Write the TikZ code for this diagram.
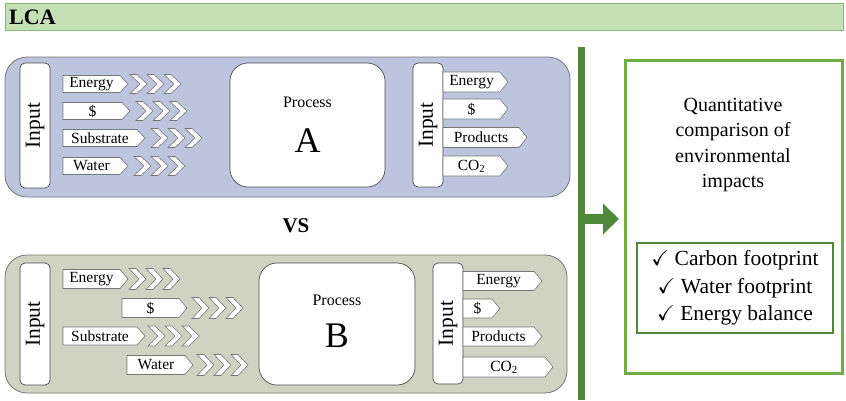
\documentclass[tikz,border=0pt]{standalone}
\usepackage{fontspec}
\setmainfont{Liberation Serif}
\usepackage{amssymb}
\usetikzlibrary{arrows.meta}

\definecolor{titlefill}{HTML}{C5E0B4}
\definecolor{titleline}{HTML}{8AB573}
\definecolor{panelA}{HTML}{BCC5DD}
\definecolor{panelB}{HTML}{D0D3C2}
\definecolor{panelline}{HTML}{777777}
\definecolor{darkgreen}{HTML}{4E8A3A}
\definecolor{lightgreen}{HTML}{70AD47}

% labelled flow tag with a pointed right end
\newcommand\flowtag[6]{% name, left x, tip x, centre y, height, text
  \path[tagbox] (#2,{#4-#5/2}) -- ({#3-8},{#4-#5/2}) -- (#3,#4) -- ({#3-8},{#4+#5/2}) -- (#2,{#4+#5/2}) -- cycle;
  \node[tagtext] (#1) at ({(#2+#3-8)/2},#4) {#6};}

% three chevrons following a tag
\newcommand\chevrons[3]{% start x, centre y, height
  \foreach \i in {0,1,2}{
    \path[chev] ({#1+17*\i},{#2-#3/2-1}) -- ({#1+17*\i+7},{#2-#3/2-1}) -- ({#1+17*\i+17},#2)
      -- ({#1+17*\i+7},{#2+#3/2+1}) -- ({#1+17*\i},{#2+#3/2+1}) -- ({#1+17*\i+10},#2) -- cycle;}}

\begin{document}
\begin{tikzpicture}[x=1pt,y=-1pt,
  tagbox/.style={draw=panelline, fill=white, line width=0.6pt},
  chev/.style={draw=panelline, fill=white, line width=0.6pt},
  tagtext/.style={font=\fontsize{15.5}{17}\selectfont, inner sep=0pt},
  inbox/.style={draw=black!70, fill=white, rounded corners=5pt, line width=0.7pt},
  inputtext/.style={rotate=90, font=\fontsize{21.5}{22}\selectfont, inner sep=0pt},
  procbox/.style={draw=black!70, fill=white, rounded corners=18pt, line width=0.7pt},
  panel/.style={draw=panelline, rounded corners=22pt, line width=0.8pt},
  proctext/.style={font=\fontsize{16}{18}\selectfont, inner sep=0pt},
  procletter/.style={font=\fontsize{36}{38}\selectfont, inner sep=0pt}
]
\useasboundingbox (0,0) rectangle (846,400);

% title bar
\node[draw=titleline, fill=titlefill, line width=0.8pt, minimum width=838, minimum height=27, inner sep=0pt] (titlebar) at (424,16.5) {};
\node[anchor=west, font=\fontsize{22}{24}\selectfont\bfseries, inner sep=0pt] (title) at (9,17) {LCA};

% ---------- process A ----------
\node[panel, fill=panelA, minimum width=565, minimum height=140] (panelA) at (287.5,127) {};
\node[inbox, minimum width=30, minimum height=125] (inAL) at (35,125.5) {};
\node[inputtext] at (inAL) {Input};

\flowtag{aE}{63}{128}{84}{17}{Energy}      \chevrons{130}{84}{17}
\flowtag{aD}{63}{130}{111}{17}{\$}         \chevrons{136}{111}{17}
\flowtag{aS}{63}{145}{138}{17}{Substrate}  \chevrons{151}{138}{17}
\flowtag{aW}{63}{128}{166}{17}{Water}      \chevrons{134}{166}{17}

\node[procbox, minimum width=155, minimum height=124] (procA) at (307.5,125) {};
\node[proctext] at (307.5,102) {Process};
\node[procletter] at (307.5,141) {A};

\node[inbox, minimum width=30, minimum height=124] (inAR) at (428,125) {};
\node[inputtext] at (inAR) {Input};
\flowtag{aoE}{443}{508}{82}{20}{Energy}
\flowtag{aoD}{443}{508}{109}{20}{\$}
\flowtag{aoP}{443}{527}{137.5}{20}{Products}
\flowtag{aoC}{443}{508}{166}{20}{CO\textsubscript{2}}

\node[font=\fontsize{21}{23}\selectfont\bfseries, inner sep=0pt] (vs) at (296,226) {VS};

% ---------- process B ----------
\node[panel, fill=panelB, minimum width=562, minimum height=138] (panelB) at (286,324) {};
\node[inbox, minimum width=30, minimum height=122] (inBL) at (35,324) {};
\node[inputtext] at (inBL) {Input};

\flowtag{bE}{63}{128}{279}{19}{Energy}      \chevrons{129}{279}{19}
\flowtag{bD}{122}{187}{308}{19}{\$}         \chevrons{192}{308}{19}
\flowtag{bS}{63}{145}{336}{18}{Substrate}   \chevrons{148}{336}{18}
\flowtag{bW}{127}{193}{365}{19}{Water}      \chevrons{197}{365}{19}

\node[procbox, minimum width=156, minimum height=122] (procB) at (337,324) {};
\node[proctext] at (337,300) {Process};
\node[procletter] at (337,336) {B};

\node[inbox, minimum width=30, minimum height=121] (inBR) at (448,323.5) {};
\node[inputtext] at (inBR) {Input};
\flowtag{boE}{463}{542}{281}{19}{Energy}
\flowtag{boD}{463}{500}{308.5}{19}{\$}
\flowtag{boP}{463}{542}{336.5}{19}{Products}
\flowtag{boC}{463}{553}{367}{20}{CO\textsubscript{2}}

% ---------- comparison ----------
\coordinate (bartop) at (581.5,47);
\coordinate (barbot) at (581.5,400);
\draw[darkgreen, line width=7pt] (bartop) -- (barbot);

\node[draw=lightgreen, line width=3pt, minimum width=217, minimum height=313, inner sep=0pt] (result) at (733.5,216.5) {};
\coordinate (barjoin) at (585,219);
\coordinate (arrowtip) at (619,219);
\draw[darkgreen, line width=10pt, -{Triangle[length=16pt,width=30pt]}] (barjoin) -- (arrowtip);

\node[align=center, font=\fontsize{20}{25.5}\selectfont, inner sep=0pt] (quant) at (733,145)
  {Quantitative\\comparison of\\environmental\\impacts};

\node[draw=darkgreen, line width=2pt, fill=white, minimum width=196, minimum height=90, inner sep=0pt] (impacts) at (735,288) {};
\node[align=center, font=\fontsize{21.5}{27.5}\selectfont, inner sep=0pt] at (impacts)
  {$\checkmark$ Carbon footprint\\$\checkmark$ Water footprint\\$\checkmark$ Energy balance};
\end{tikzpicture}
\end{document}
